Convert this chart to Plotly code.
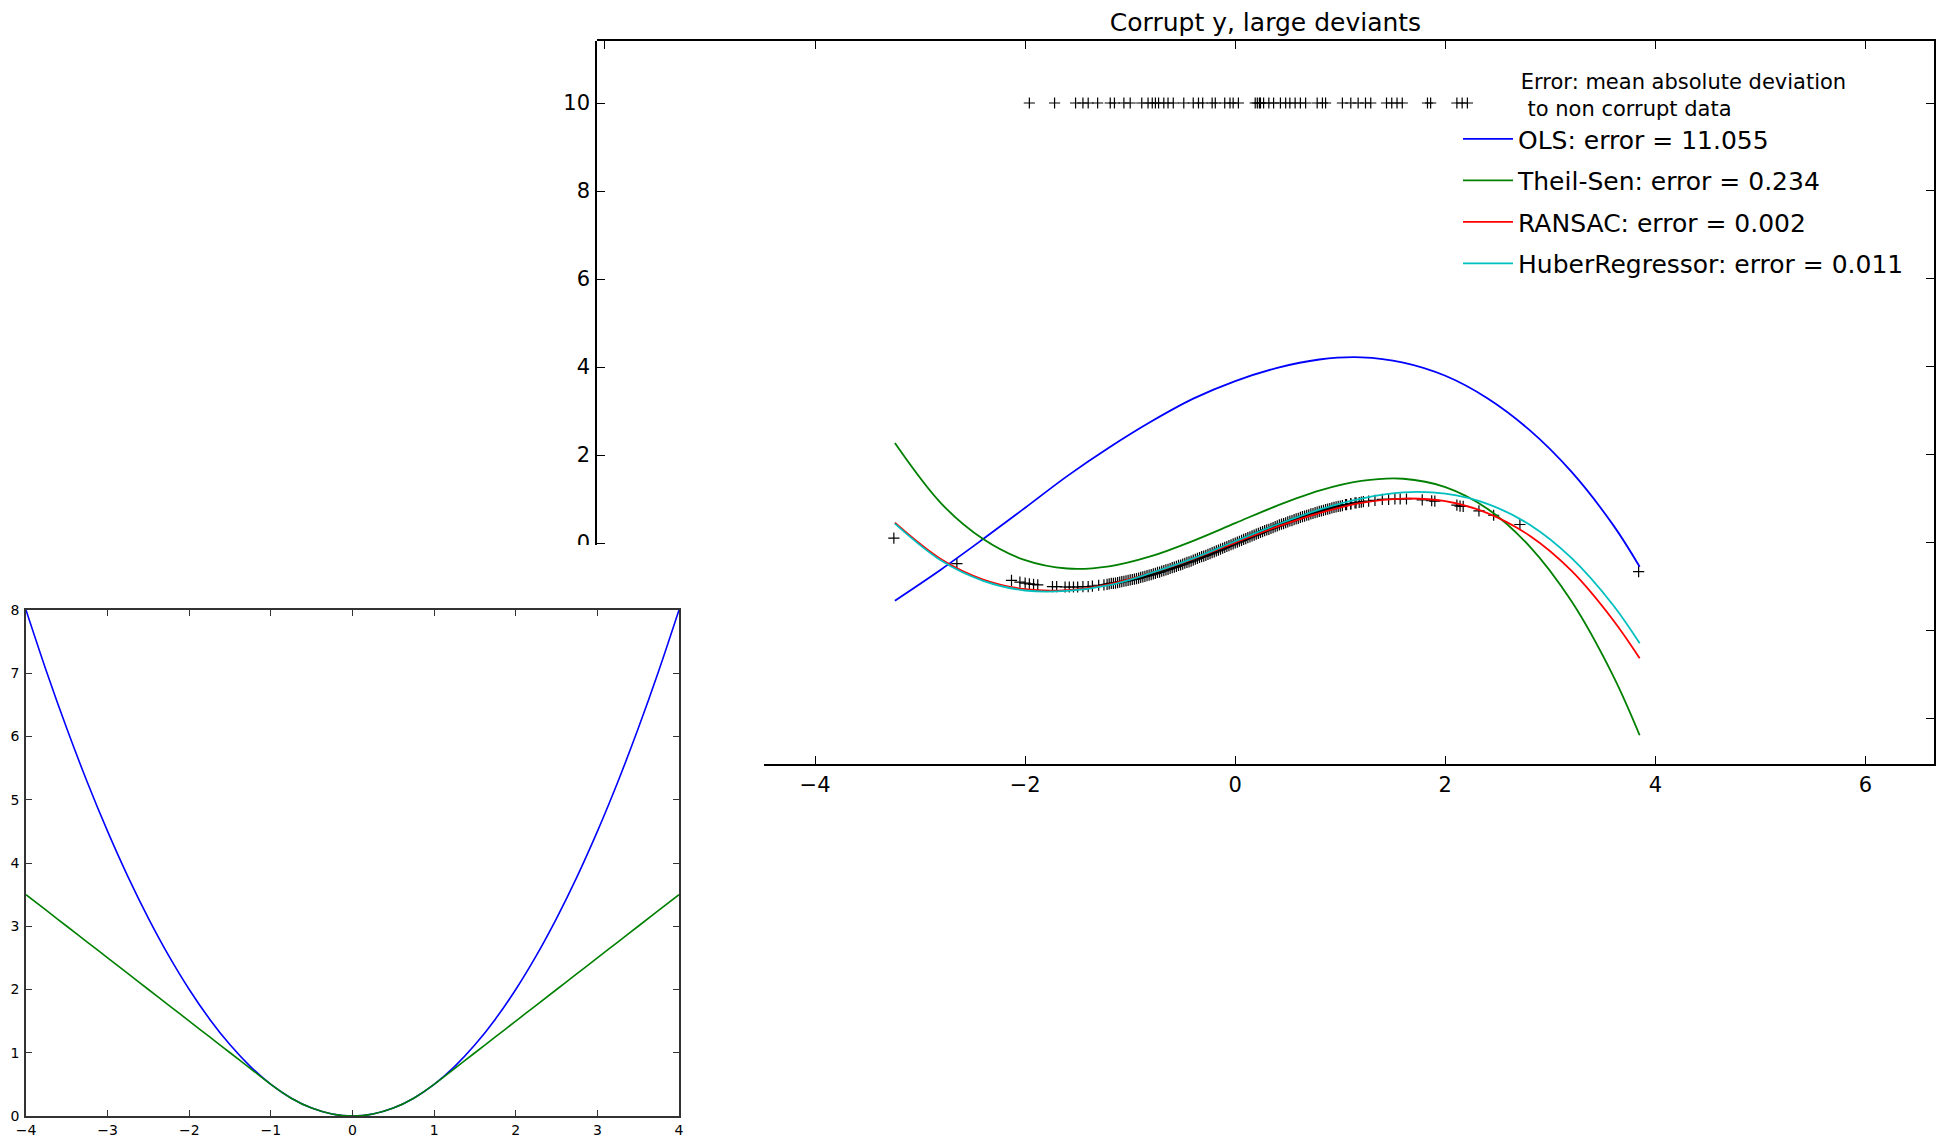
import plotly.graph_objects as go

# ---------------- main panel data: "Corrupt y, large deviants" ----------------
fit_x = [-3.24, -2.8, -2.4, -2.0, -1.6, -1.2, -0.8, -0.4, 0.0, 0.4, 0.8, 1.2,
         1.6, 2.0, 2.4, 2.8, 3.2, 3.6, 3.85]
ols_y = [-1.31, -0.60, 0.09, 0.80, 1.52, 2.17, 2.76, 3.28, 3.68, 3.98, 4.17, 4.22,
         4.10, 3.80, 3.29, 2.57, 1.62, 0.40, -0.54]
theil_y = [2.27, 0.90, 0.09, -0.39, -0.58, -0.53, -0.30, 0.05, 0.45, 0.85, 1.19, 1.41,
           1.46, 1.27, 0.78, -0.07, -1.32, -3.03, -4.37]
ransac_y = [0.46, -0.37, -0.83, -1.05, -1.07, -0.94, -0.68, -0.36, 0.01, 0.37, 0.68, 0.91,
            1.01, 0.95, 0.68, 0.17, -0.63, -1.76, -2.62]
huber_y = [0.44, -0.40, -0.86, -1.08, -1.09, -0.96, -0.68, -0.35, 0.04, 0.42, 0.76, 1.01,
           1.15, 1.12, 0.89, 0.42, -0.34, -1.42, -2.28]

labels = ["OLS: error = 11.055", "Theil-Sen: error = 0.234",
          "RANSAC: error = 0.002", "HuberRegressor: error = 0.011"]
legend_title = "Error: mean absolute deviation<br> to non corrupt data"

# clean samples (lie on the sine band)
pts_x = [-3.25, -2.65, -2.13, -2.05, -2.00, -1.96, -1.92, -1.88, -1.74, -1.70, -1.62,
         -1.58, -1.54, -1.50, -1.45, -1.40, -1.36, -1.30, -1.25, -1.20, -1.16, -1.12,
         -1.08, -1.04, -1.00, -0.96, -0.92, -0.88, -0.84, -0.80, -0.76, -0.72, -0.68,
         -0.64, -0.60, -0.56, -0.52, -0.48, -0.44, -0.40, -0.36, -0.32, -0.28, -0.24,
         -0.20, -0.16, -0.12, -0.08, -0.04, 0.00, 0.04, 0.08, 0.12, 0.16, 0.20, 0.24,
         0.28, 0.32, 0.36, 0.40, 0.44, 0.48, 0.52, 0.56, 0.60, 0.64, 0.68, 0.72, 0.76,
         0.80, 0.84, 0.88, 0.92, 0.96, 1.00, 1.05, 1.10, 1.15, 1.20, 1.27, 1.33, 1.40,
         1.46, 1.52, 1.57, 1.63, 1.78, 1.87, 1.90, 2.11, 2.14, 2.17, 2.32, 2.46, 2.71,
         3.84,
         -1.22, -1.18, -1.14, -1.10, -1.06, -1.02, -0.98, -0.94, -0.90, -0.86, -0.82,
         -0.78, -0.74, -0.70, -0.66, -0.62, -0.58, -0.54, -0.50, -0.46, -0.42, -0.38,
         -0.34, -0.30, -0.26, -0.22, -0.18, -0.14, -0.10, -0.06, -0.02, 0.02, 0.06,
         0.10, 0.14, 0.18, 0.22, 0.26, 0.30, 0.34, 0.38, 0.42, 0.46, 0.50, 0.54, 0.58,
         0.62, 0.66, 0.70, 0.74, 0.78, 0.82, 0.86, 0.90, 0.94, 0.98, 1.02, 1.06, 1.10,
         1.14, 1.18, 1.22]
pts_y = [0.11, -0.47, -0.85, -0.89, -0.91, -0.93, -0.94, -0.95, -0.99, -0.99, -1.00,
         -1.00, -1.00, -1.00, -0.99, -0.99, -0.98, -0.96, -0.95, -0.93, -0.92, -0.90,
         -0.88, -0.86, -0.84, -0.82, -0.80, -0.77, -0.74, -0.72, -0.69, -0.66, -0.63,
         -0.60, -0.56, -0.53, -0.50, -0.46, -0.43, -0.39, -0.35, -0.31, -0.28, -0.24,
         -0.20, -0.16, -0.12, -0.08, -0.04, 0.00, 0.04, 0.08, 0.12, 0.16, 0.20, 0.24,
         0.28, 0.31, 0.35, 0.39, 0.43, 0.46, 0.50, 0.53, 0.56, 0.60, 0.63, 0.66, 0.69,
         0.72, 0.74, 0.77, 0.80, 0.82, 0.84, 0.87, 0.89, 0.91, 0.93, 0.95, 0.97, 0.99,
         0.99, 1.00, 1.00, 1.00, 0.98, 0.96, 0.95, 0.86, 0.84, 0.83, 0.73, 0.63, 0.42,
         -0.65,
         -0.94, -0.92, -0.91, -0.89, -0.87, -0.85, -0.83, -0.81, -0.78, -0.76, -0.73,
         -0.70, -0.67, -0.64, -0.61, -0.58, -0.55, -0.51, -0.48, -0.44, -0.41, -0.37,
         -0.33, -0.30, -0.26, -0.22, -0.18, -0.14, -0.10, -0.06, -0.02, 0.02, 0.06,
         0.10, 0.14, 0.18, 0.22, 0.26, 0.30, 0.33, 0.37, 0.41, 0.44, 0.48, 0.51, 0.55,
         0.58, 0.61, 0.64, 0.67, 0.70, 0.73, 0.76, 0.78, 0.81, 0.83, 0.85, 0.87, 0.89,
         0.91, 0.92, 0.94]

# corrupted samples (y set to 10)
out_x = [-1.96, -1.72, -1.52, -1.45, -1.40, -1.31, -1.19, -1.15, -1.06, -1.00, -0.89,
         -0.83, -0.79, -0.76, -0.73, -0.68, -0.64, -0.59, -0.49, -0.40, -0.35, -0.31,
         -0.22, -0.19, -0.10, -0.05, -0.02, 0.03, 0.19, 0.21, 0.23, 0.24, 0.27, 0.32,
         0.365, 0.43, 0.48, 0.52, 0.57, 0.62, 0.67, 0.78, 0.83, 0.86, 1.02, 1.10, 1.17,
         1.24, 1.29, 1.44, 1.49, 1.54, 1.59, 1.83, 1.86, 2.11, 2.16, 2.21]
out_y = [10] * len(out_x)

# ---------------- inset data: loss functions ----------------
loss_x = [-4, -3.75, -3.5, -3.25, -3, -2.75, -2.5, -2.25, -2, -1.75, -1.5, -1.25, -1,
          -0.75, -0.5, -0.25, 0, 0.25, 0.5, 0.75, 1, 1.25, 1.5, 1.75, 2, 2.25, 2.5,
          2.75, 3, 3.25, 3.5, 3.75, 4]
squared_loss = [8, 7.03125, 6.125, 5.28125, 4.5, 3.78125, 3.125, 2.53125, 2, 1.53125,
                1.125, 0.78125, 0.5, 0.28125, 0.125, 0.03125, 0, 0.03125, 0.125, 0.28125,
                0.5, 0.78125, 1.125, 1.53125, 2, 2.53125, 3.125, 3.78125, 4.5, 5.28125,
                6.125, 7.03125, 8]
huber_loss = [3.5, 3.25, 3.0, 2.75, 2.5, 2.25, 2.0, 1.75, 1.5, 1.25, 1.0, 0.75, 0.5,
              0.28125, 0.125, 0.03125, 0, 0.03125, 0.125, 0.28125, 0.5, 0.75, 1.0, 1.25,
              1.5, 1.75, 2.0, 2.25, 2.5, 2.75, 3.0, 3.25, 3.5]

# ---------------- geometry helpers (page pixels -> paper) ----------------
W, H = 1946, 1138


def px(X):
    return X / W


def py(Y):
    return 1 - Y / H


FONT = "DejaVu Sans"
colors = ["#0000ff", "#008000", "#ff0000", "#00bfbf"]

fig = go.Figure()

fig.add_trace(go.Scatter(x=pts_x + out_x, y=pts_y + out_y, mode="markers",
                         marker=dict(symbol="cross-thin", size=8,
                                     line=dict(color="black", width=1.2)),
                         showlegend=False, hoverinfo="skip", xaxis="x", yaxis="y"))

for i, (yy, lab) in enumerate(zip([ols_y, theil_y, ransac_y, huber_y], labels)):
    fig.add_trace(go.Scatter(x=fit_x, y=yy, mode="lines", name=lab,
                             line=dict(color=colors[i], width=1.8, shape="spline"),
                             legendgroup=str(i), xaxis="x", yaxis="y"))

# placeholder traces so the partial frame axes are drawn
fig.add_trace(go.Scatter(x=[None], y=[None], xaxis="x3", yaxis="y",
                         showlegend=False, hoverinfo="skip"))
fig.add_trace(go.Scatter(x=[None], y=[None], xaxis="x", yaxis="y3",
                         showlegend=False, hoverinfo="skip"))

# inset
fig.add_trace(go.Scatter(x=loss_x, y=squared_loss, mode="lines",
                         line=dict(color="#0000ff", width=1.6, shape="spline"),
                         showlegend=False, xaxis="x2", yaxis="y2"))
fig.add_trace(go.Scatter(x=loss_x, y=huber_loss, mode="lines",
                         line=dict(color="#008000", width=1.6, shape="spline"),
                         showlegend=False, xaxis="x2", yaxis="y2"))

main_dom_x = [px(597), px(1934)]
main_dom_y = [py(764), py(41)]
xr = [-6.076, 6.652]
yr = [-5.023, 11.409]

axis_common = dict(showgrid=False, zeroline=False, showline=True, linecolor="black",
                   linewidth=1.5, ticks="inside", ticklen=8, tickwidth=1.2,
                   automargin=False,
                   tickcolor="black", tickfont=dict(family=FONT, size=21, color="black"))

inset_common = dict(dtick=1, mirror="ticks", showgrid=False, zeroline=False,
                    showline=True, linecolor="#333", linewidth=1.5, ticks="inside",
                    ticklen=6, tickcolor="#333", automargin=False,
                    tickfont=dict(family=FONT, size=14, color="black"))

fig.update_layout(
    width=W, height=H, autosize=False,
    margin=dict(l=0, r=0, t=0, b=0, pad=0),
    paper_bgcolor="white", plot_bgcolor="rgba(0,0,0,0)",
    font=dict(family=FONT, color="black"),
    title=dict(text="Corrupt y, large deviants", x=px((597 + 1934) / 2), xanchor="center",
               y=py(22), yanchor="middle", xref="paper", yref="paper", automargin=False,
               font=dict(family=FONT, size=25, color="black")),
    # main frame: top + right lines
    xaxis=dict(domain=main_dom_x, range=xr, side="top", anchor="y", tick0=0, dtick=2,
               showticklabels=False, **axis_common),
    yaxis=dict(domain=main_dom_y, range=yr, side="right", anchor="x", tick0=0, dtick=2,
               showticklabels=False, **axis_common),
    # visible part of the bottom axis
    xaxis3=dict(domain=[px(764), px(1934)], range=[(764 - 1235) / 105, xr[1]],
                side="bottom", anchor="y", tick0=0, dtick=2, ticklabelstandoff=1,
                **axis_common),
    # visible part of the left axis
    yaxis3=dict(domain=[py(545), py(41)], range=[(543 - 545) / 44, yr[1]],
                side="left", anchor="x", tick0=0, dtick=2, ticklabelstandoff=1,
                **axis_common),
    # inset
    xaxis2=dict(domain=[px(26), px(679)], range=[-4, 4], anchor="y2",
                ticklabelstandoff=0, **inset_common),
    yaxis2=dict(domain=[py(1116), py(610)], range=[0, 8], anchor="x2",
                ticklabelstandoff=2, **inset_common),
    legend=dict(x=px(1458), y=py(61.5), xanchor="left", yanchor="top",
                bgcolor="rgba(0,0,0,0)", borderwidth=0, traceorder="grouped",
                tracegroupgap=6, itemwidth=50,
                font=dict(family=FONT, size=25, color="black"),
                title=dict(text=legend_title, side="top center",
                           font=dict(family=FONT, size=21, color="black"))),
    shapes=[dict(type="rect", xref="paper", yref="paper", layer="above",
                 x0=px(548), x1=px(595), y0=py(562), y1=py(545),
                 fillcolor="white", line=dict(width=0))],
)

fig.write_html(
    "out.html",
    config={"displayModeBar": False},
    post_script="document.documentElement.style.margin='0';"
                "document.body.style.margin='0';"
                "document.body.style.overflow='hidden';",
)
